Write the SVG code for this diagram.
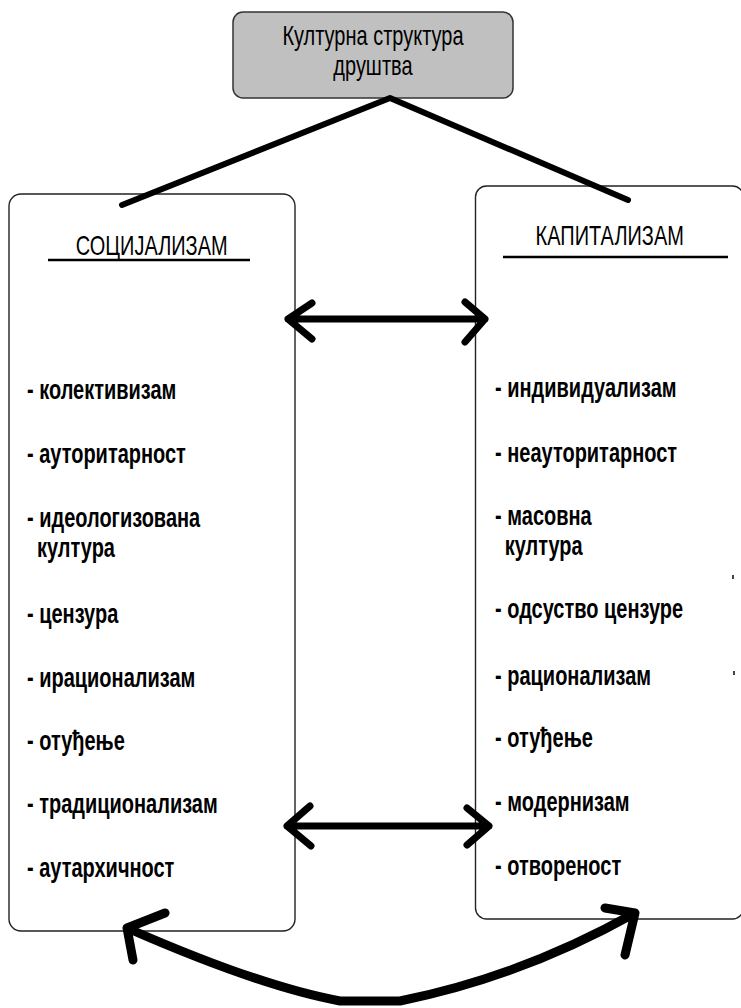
<svg xmlns="http://www.w3.org/2000/svg" width="741" height="1008" viewBox="0 0 741 1008">
<style>
.box{fill:#ffffff;stroke:#222;stroke-width:1.4}
.top{fill:#c0c0c0;stroke:#333;stroke-width:1.5}
.t{font-family:"Liberation Sans",Arial,sans-serif;font-size:27px;fill:#000}
.b{font-weight:bold}
.h{text-anchor:middle}
.conn{fill:none;stroke:#000;stroke-linecap:round;stroke-linejoin:round}
</style>
<rect width="741" height="1008" fill="#ffffff"/>
<g id="node-top">
<rect class="top" x="233" y="12" width="280" height="86" rx="10"/>
<g transform="scale(0.74,1)">
<text class="t h" x="504" y="45">Културна структура</text>
<text class="t h" x="504" y="75">друштва</text>
</g>
</g>
<g id="node-socijalizam">
<rect class="box" x="9" y="194" width="286" height="737" rx="12"/>
<line x1="48" y1="260" x2="250" y2="260" stroke="#000" stroke-width="2.5"/>
<g transform="scale(0.74,1)">
<text class="t h" x="205" y="255">СОЦИЈАЛИЗАМ</text>
<text class="t b" x="36.5" y="399">- колективизам</text>
<text class="t b" x="36.5" y="463">- ауторитарност</text>
<text class="t b" x="36.5" y="527">- идеологизована</text>
<text class="t b" x="50" y="557">култура</text>
<text class="t b" x="36.5" y="623">- цензура</text>
<text class="t b" x="36.5" y="687">- ирационализам</text>
<text class="t b" x="36.5" y="750">- отуђење</text>
<text class="t b" x="36.5" y="813">- традиционализам</text>
<text class="t b" x="36.5" y="877">- аутархичност</text>
</g>
</g>
<g id="node-kapitalizam">
<rect class="box" x="475.5" y="186" width="268" height="733" rx="11"/>
<line x1="503" y1="257" x2="728" y2="257" stroke="#000" stroke-width="2.5"/>
<g transform="scale(0.74,1)">
<text class="t h" x="824" y="245">КАПИТАЛИЗАМ</text>
<text class="t b" x="669" y="397">- индивидуализам</text>
<text class="t b" x="669" y="462">- неауторитарност</text>
<text class="t b" x="669" y="525">- масовна</text>
<text class="t b" x="682" y="555">култура</text>
<text class="t b" x="669" y="618">- одсуство цензуре</text>
<text class="t b" x="669" y="685">- рационализам</text>
<text class="t b" x="669" y="747">- отуђење</text>
<text class="t b" x="669" y="811">- модернизам</text>
<text class="t b" x="669" y="875">- отвореност</text>
</g>
<rect x="732" y="575" width="2" height="4" fill="#444"/>
<rect x="733" y="671" width="2" height="4" fill="#444"/>
</g>
<g id="connectors">
<path class="conn" stroke-width="6" d="M122,205 L390,98 L628,200"/>
<path class="conn" stroke-width="7" d="M288,319 L485,319 M312,303 L288,319 L312,339 M465,302 L485,319 L465,342"/>
<path class="conn" stroke-width="7" d="M287,826 L489,826 M310,806 L287,826 L311,846 M467,808 L489,826 L467,845"/>
<path class="conn" stroke-width="9" d="M127,928 C200,960 280,990 340,1001 L400,1001 C480,985 560,955 635,913 M165,913 L127,928 L133,960 M605,908 L635,913 L625,955"/>
</g>
</svg>
